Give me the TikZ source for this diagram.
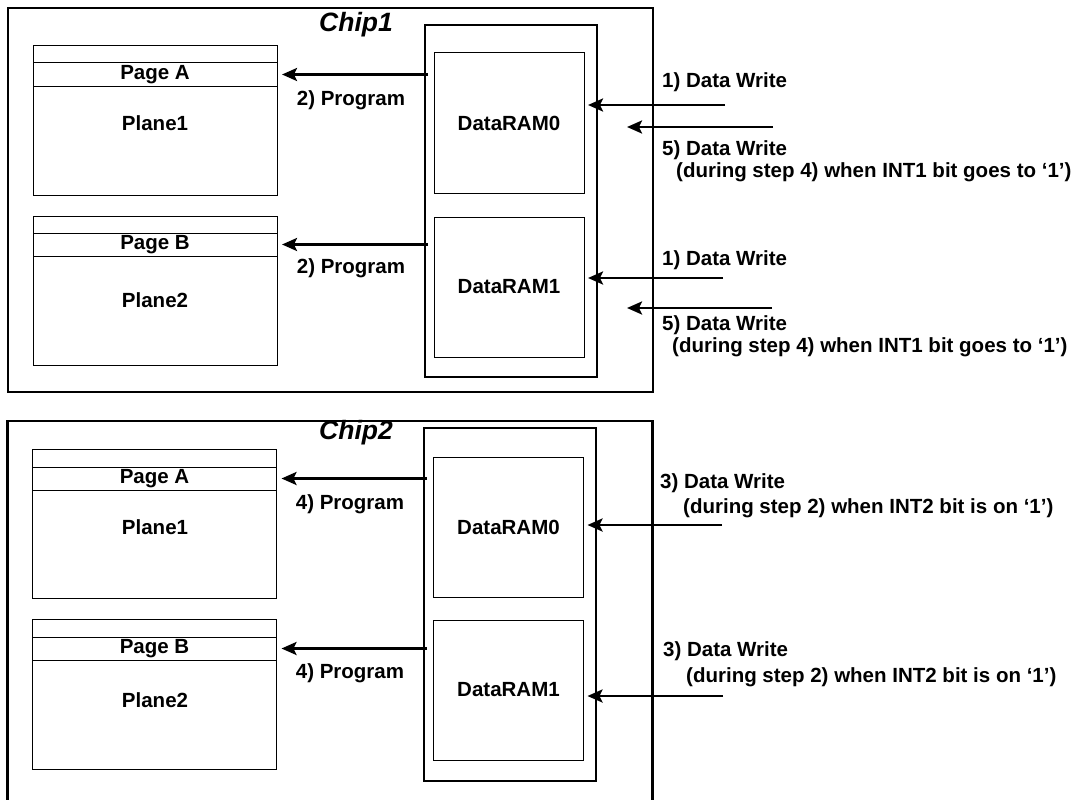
\documentclass[tikz,border=0pt]{standalone}
\usepackage{fontspec}
\setmainfont{Liberation Sans}
\usetikzlibrary{arrows.meta,positioning,calc}

\begin{document}
\begin{tikzpicture}[x=1pt,y=-1pt,
  chip/.style={draw,line width=2.3pt,inner sep=0pt,outer sep=0pt,minimum width=645pt},
  ramctr/.style={draw,line width=2.3pt,inner sep=0pt,outer sep=0pt,
                 minimum width=172pt,minimum height=352pt},
  ram/.style={draw,line width=1pt,inner sep=0pt,outer sep=0pt,
              minimum width=150pt,minimum height=140pt,
              font=\bfseries\fontsize{20.5}{24}\selectfont},
  plane/.style={draw,line width=1pt,inner sep=0pt,outer sep=0pt,
                minimum width=244pt,minimum height=149pt},
  page/.style={draw,line width=1pt,inner sep=0pt,outer sep=0pt,
               minimum width=244pt,minimum height=23pt,
               font=\bfseries\fontsize{20.5}{24}\selectfont},
  txt/.style={font=\bfseries\fontsize{20.5}{24}\selectfont,inner sep=0pt},
  chiplbl/.style={font=\bfseries\itshape\fontsize{26.5}{30}\selectfont,inner sep=0pt},
  arrow/.style={-{Stealth[length=15pt,width=13pt,inset=3pt]},line width=2.6pt}
]
\clip (0,0) rectangle (1089,800);
\fill[white] (0,0) rectangle (1089,800);

% Chip1
\node[chip,minimum height=384pt] (chip1) at (330.5,200) {};
\node[chiplbl] (c1lbl) at (356,25) {Chip1};

% Planes (links)
\node[plane] (pl1a) at (155,120.5) {};
\node[page] (pgA1) at (155,74.5) {Page A};
\node[txt] (pl1aT) at (155,123) {Plane1};
\node[plane] (pl2a) at (155,290.5) {};
\node[page] (pgB1) at (155,244.5) {Page B};
\node[txt] (pl2aT) at (155,300) {Plane2};

% DataRAMs (midden)
\node[ramctr] (ctr1) at (511,201) {};
\node[ram] (ram0a) at (509,123) {DataRAM0};
\node[ram] (ram1a) at (509,287) {DataRAM1};

% Program
\draw[arrow] ([xshift=3pt]ctr1.west |- pgA1.east) -- ([xshift=5pt]pgA1.east);
\draw[arrow] ([xshift=3pt]ctr1.west |- pgB1.east) -- ([xshift=5pt]pgB1.east);
\node[txt] (prg1a) at (351,100) {2) Program};
\node[txt] (prg1b) at (351,268) {2) Program};

% Data Write (rechts)
\coordinate (dw1a) at (725,105);
\coordinate (dw5a) at (773,127);
\coordinate (dw1b) at (723,278);
\coordinate (dw5b) at (772,308);
\draw[arrow] (dw1a) -- ([xshift=4pt]ram0a.east |- dw1a);
\draw[arrow] (dw5a) -- ([xshift=-26pt]chip1.east |- dw5a);
\draw[arrow] (dw1b) -- ([xshift=4pt]ram1a.east |- dw1b);
\draw[arrow] (dw5b) -- ([xshift=-26pt]chip1.east |- dw5b);
\node[txt,anchor=west] (w1a) at (662,82) {1) Data Write};
\node[txt,anchor=west] (w5a) at (662,150) {5) Data Write};
\node[txt,anchor=west] (w5aa) at (676,172) {(during step 4) when INT1 bit goes to `1')};
\node[txt,anchor=west] (w1b) at (662,260) {1) Data Write};
\node[txt,anchor=west] (w5b) at (662,325) {5) Data Write};
\node[txt,anchor=west] (w5bb) at (672,347) {(during step 4) when INT1 bit goes to `1')};

% Chip2
\node[chip,minimum height=382pt] (chip2) at (330,612) {};
\node[chiplbl] (c2lbl) at (356,433) {Chip2};

\node[plane] (pl1b) at (154.5,523.5) {};
\node[page] (pgA2) at (154.5,478.5) {Page A};
\node[txt] (pl1bT) at (155,527) {Plane1};
\node[plane,minimum height=150pt] (pl2b) at (154.5,694) {};
\node[page] (pgB2) at (154.5,648.5) {Page B};
\node[txt] (pl2bT) at (155,700) {Plane2};

\node[ramctr,minimum height=353pt] (ctr2) at (510,604.5) {};
\node[ram] (ram0b) at (508.5,527) {DataRAM0};
\node[ram] (ram1b) at (508.5,690) {DataRAM1};

\draw[arrow] ([xshift=3pt]ctr2.west |- pgA2.east) -- ([xshift=5pt]pgA2.east);
\draw[arrow] ([xshift=3pt]ctr2.west |- pgB2.east) -- ([xshift=5pt]pgB2.east);
\node[txt] (prg2a) at (350,504) {4) Program};
\node[txt] (prg2b) at (350,673) {4) Program};

\coordinate (dw3a) at (722,525);
\coordinate (dw3b) at (723,696);
\draw[arrow] (dw3a) -- ([xshift=4pt]ram0b.east |- dw3a);
\draw[arrow] (dw3b) -- ([xshift=4pt]ram1b.east |- dw3b);
\node[txt,anchor=west] (w3a) at (660,483) {3) Data Write};
\node[txt,anchor=west] (w3aa) at (683,508) {(during step 2) when INT2 bit is on `1')};
\node[txt,anchor=west] (w3b) at (663,651) {3) Data Write};
\node[txt,anchor=west] (w3bb) at (686,677) {(during step 2) when INT2 bit is on `1')};
\end{tikzpicture}
\end{document}
